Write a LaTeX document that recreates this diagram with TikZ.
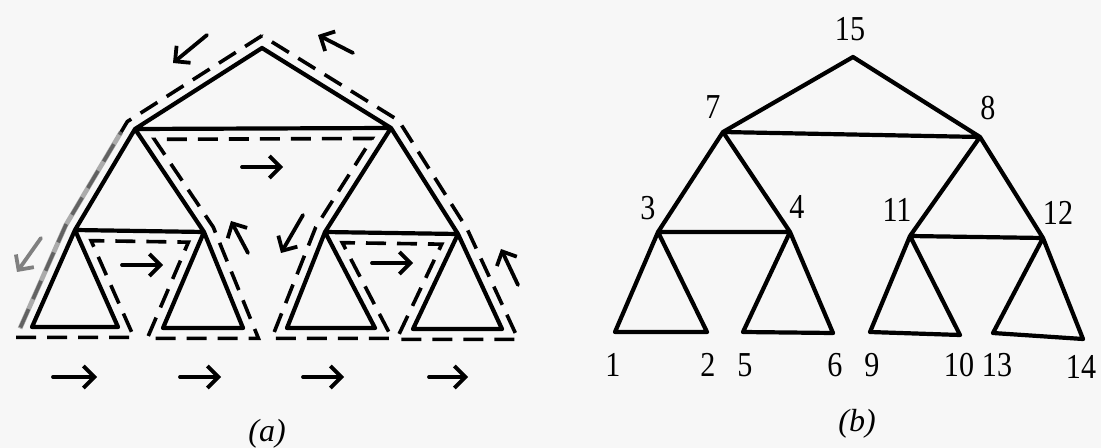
\documentclass[tikz,border=0pt]{standalone}
\usepackage{fontspec}
\setmainfont{Liberation Serif}
\newfontfamily\numfont[FakeStretch=0.86]{Liberation Serif}
\usetikzlibrary{calc,arrows.meta}
\begin{document}
\begin{tikzpicture}[x=0.5pt,y=-0.5pt,
  tree/.style={line width=2.1pt, line cap=round, line join=round},
  tour/.style={line width=1.8pt, dash pattern=on 10pt off 5.5pt},
  dirarrow/.style={line width=1.9pt, line cap=round, -{Straight Barb[length=5.5pt,width=11pt]}},
  num/.style={font=\numfont\fontsize{17.5pt}{20pt}\selectfont, inner sep=0pt},
  capt/.style={font=\itshape\fontsize{16pt}{18pt}\selectfont, inner sep=0pt}
]
\fill[black!3] (0,0) rectangle (1101,448);
\useasboundingbox (0,0) rectangle (1101,448);

% ---------- (a) ----------
\coordinate (A)  at (262,48);
\coordinate (B1) at (135,129);
\coordinate (B2) at (391,128);
\coordinate (C1) at (75,230);
\coordinate (C2) at (204,232);
\coordinate (C3) at (325,232);
\coordinate (C4) at (458,234);
\coordinate (l1) at (32,327);
\coordinate (l2) at (118,327);
\coordinate (l3) at (163,328);
\coordinate (l4) at (243,328);
\coordinate (l5) at (287,328);
\coordinate (l6) at (375,328);
\coordinate (l7) at (413,329);
\coordinate (l8) at (502,329);

\draw[tree] (A) -- (B1) (A) -- (B2) (B1) -- (B2)
  (B1) -- (C1) (B1) -- (C2) (C1) -- (C2)
  (C1) -- (l1) (C1) -- (l2) (l1) -- (l2)
  (C2) -- (l3) (C2) -- (l4) (l3) -- (l4)
  (B2) -- (C3) (B2) -- (C4) (C3) -- (C4)
  (C3) -- (l5) (C3) -- (l6) (l5) -- (l6)
  (C4) -- (l7) (C4) -- (l8) (l7) -- (l8);

% offset contour (Euler tour)
\foreach \p/\c/\n [count=\i] in {B2/A/B1, A/B1/C1, B1/C1/l1, C1/l1/l2, l1/l2/C1,
   l2/C1/C2, C1/C2/l3, C2/l3/l4, l3/l4/C2, l4/C2/B1, C2/B1/B2, B1/B2/C3,
   B2/C3/l5, C3/l5/l6, l5/l6/C3, l6/C3/C4, C3/C4/l7, C4/l7/l8, l7/l8/C4,
   l8/C4/B2, C4/B2/A} {
  \coordinate (p1) at ($(\p)!5.2pt!-90:(\c)$);
  \coordinate (p2) at ($(\c)!5.2pt!90:(\p)$);
  \coordinate (q1) at ($(\c)!5.2pt!-90:(\n)$);
  \coordinate (q2) at ($(\n)!5.2pt!90:(\c)$);
  \coordinate (o\i) at (intersection of p1--p2 and q1--q2);
}
\draw[tour] (o1) -- (o2) -- (o3) -- (o4) -- (o5) -- (o6) -- (o7) -- (o8)
  -- (o9) -- (o10) -- (o11) -- (o12) -- (o13) -- (o14) -- (o15) -- (o16)
  -- (o17) -- (o18) -- (o19) -- (o20) -- (o21) -- cycle;
\draw[line width=2.4pt, black!45, opacity=.7] ($(o2)!.1!(o3)$) -- (o3) -- ($(o3)!.92!(o4)$);

% direction arrows
\draw[dirarrow] (207,35) -- (173,63);
\draw[dirarrow] (353,53) -- (318,35);
\draw[dirarrow] (242,167) -- (283,167);
\draw[dirarrow] (122,265) -- (163,265);
\draw[dirarrow] (248,253) -- (231,221);
\draw[dirarrow] (303,215) -- (281,253);
\draw[dirarrow] (372,263) -- (413,263);
\draw[dirarrow] (518,285) -- (501,249);
\draw[dirarrow, black!50] (41,238) -- (17,272);
\draw[dirarrow] (53,377) -- (97,377);
\draw[dirarrow] (180,377) -- (221,377);
\draw[dirarrow] (303,377) -- (344,377);
\draw[dirarrow] (429,377) -- (468,377);

\node[capt] (capa) at (267,434) {(a)};

% ---------- (b) ----------
\coordinate (n15) at (853,57);
\coordinate (n7)  at (723,132);
\coordinate (n8)  at (980,137);
\coordinate (n3)  at (658,232);
\coordinate (n4)  at (790,232);
\coordinate (n11) at (910,236);
\coordinate (n12) at (1043,238);
\coordinate (n1)  at (615,332);
\coordinate (n2)  at (707,332);
\coordinate (n5)  at (743,332);
\coordinate (n6)  at (833,333);
\coordinate (n9)  at (870,332);
\coordinate (n10) at (960,335);
\coordinate (n13) at (993,333);
\coordinate (n14) at (1083,339);

\draw[tree] (n15) -- (n7) (n15) -- (n8) (n7) -- (n8)
  (n7) -- (n3) (n7) -- (n4) (n3) -- (n4)
  (n3) -- (n1) (n3) -- (n2) (n1) -- (n2)
  (n4) -- (n5) (n4) -- (n6) (n5) -- (n6)
  (n8) -- (n11) (n8) -- (n12) (n11) -- (n12)
  (n11) -- (n9) (n11) -- (n10) (n9) -- (n10)
  (n12) -- (n13) (n12) -- (n14) (n13) -- (n14);

\node[num] (t15) at (850,29) {15};
\node[num] (t7)  at (713,107) {7};
\node[num] (t8)  at (988,108) {8};
\node[num] (t3)  at (648,208) {3};
\node[num] (t4)  at (797,207) {4};
\node[num] (t11) at (897,210) {11};
\node[num] (t12) at (1058,213) {12};
\node[num] (t1)  at (613,365) {1};
\node[num] (t2)  at (708,365) {2};
\node[num] (t5)  at (745,365) {5};
\node[num] (t6)  at (835,365) {6};
\node[num] (t9)  at (872,365) {9};
\node[num] (t10) at (959,365) {10};
\node[num] (t13) at (997,365) {13};
\node[num] (t14) at (1081,367) {14};

\node[capt] (capb) at (857,424) {(b)};
\end{tikzpicture}
\end{document}
